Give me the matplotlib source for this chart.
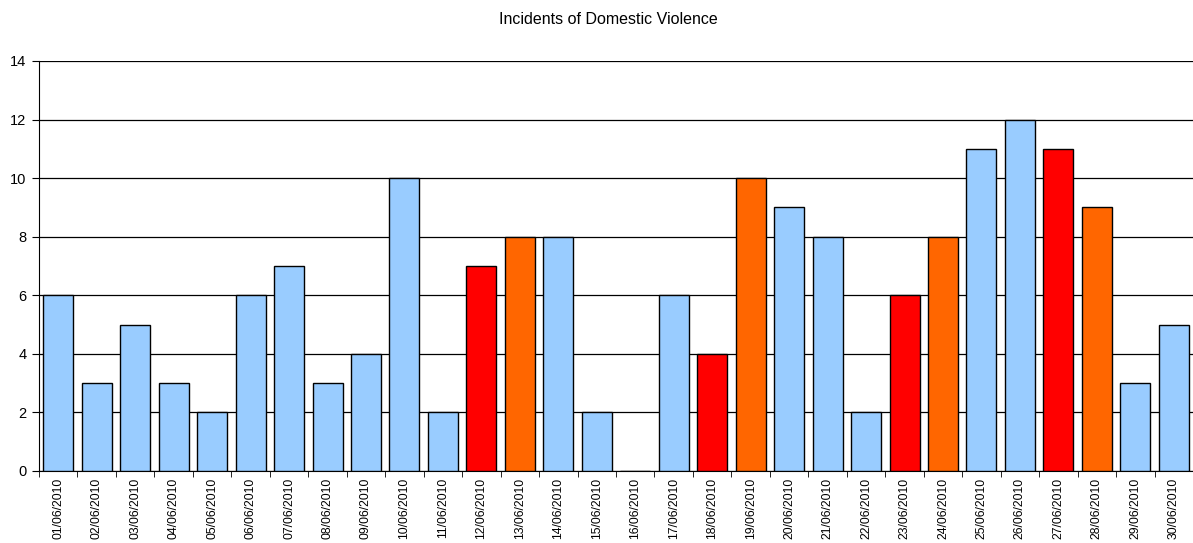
import numpy as np
import matplotlib.pyplot as plt
from matplotlib.ticker import FixedLocator

plt.rcParams['font.family'] = ['Liberation Sans', 'DejaVu Sans']

dates = ['%02d/06/2010' % d for d in range(1, 31)]
incidents = [6, 3, 5, 3, 2, 6, 7, 3, 4, 10, 2, 7, 8, 8, 2, 0, 6, 4, 10, 9,
             8, 2, 6, 8, 11, 12, 11, 9, 3, 5]
# b = normal day, r = red, o = orange
colour_code = ['b'] * 11 + ['r', 'o'] + ['b'] * 4 + ['r', 'o'] + ['b'] * 3 + ['r', 'o'] + ['b'] * 2 + ['r', 'o'] + ['b'] * 2
palette = {'b': '#99CCFF', 'r': '#FF0000', 'o': '#FF6600'}

fig = plt.figure(figsize=(11.93, 5.43), dpi=100)
ax = fig.add_axes([0.0327, 0.1326, 0.9673, 0.7551])

x = np.arange(len(dates))
ax.bar(x, incidents, width=0.78, color=[palette[c] for c in colour_code],
       edgecolor='black', linewidth=1.0, zorder=3)

ax.set_xlim(-0.5, len(dates) - 0.5)
ax.set_ylim(0, 14)
ax.set_yticks(range(0, 15, 2))
ax.yaxis.grid(True, color='black', linewidth=0.9, zorder=0)

ax.set_xticks(x)
ax.set_xticklabels(dates, rotation=90, fontsize=8.8)
ax.tick_params(axis='x', which='major', length=0, pad=5)
ax.xaxis.set_minor_locator(FixedLocator(np.arange(-0.5, len(dates), 1)))
ax.tick_params(axis='x', which='minor', length=4, direction='out')
ax.tick_params(axis='y', labelsize=10.5, length=5, direction='out', pad=4)

for s in ['top', 'right']:
    ax.spines[s].set_visible(False)

fig.text(0.51, 0.965, 'Incidents of Domestic Violence', ha='center', va='center', fontsize=11.5)

fig.savefig('out.png', dpi=100)
